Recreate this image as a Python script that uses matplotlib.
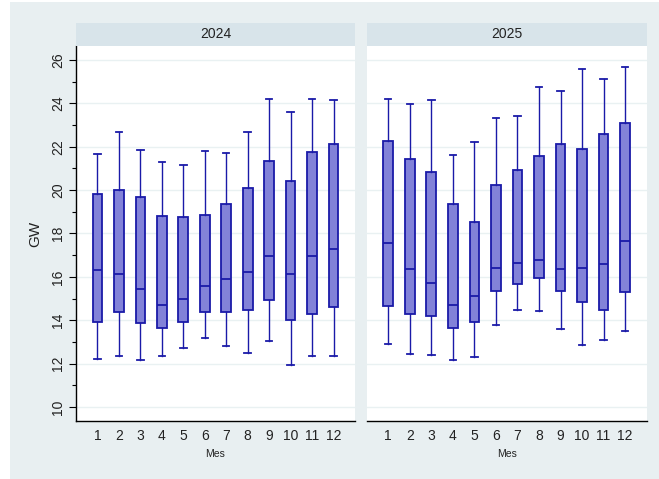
import matplotlib
matplotlib.use("Agg")
import matplotlib.pyplot as plt
from matplotlib.patches import Rectangle
from matplotlib.ticker import MultipleLocator

plt.rcParams['font.family'] = ['Liberation Sans', 'DejaVu Sans']

months = list(range(1, 13))
month_labels = [str(m) for m in months]
years = ["2024", "2025"]

whishi_2024 = [21.69, 22.69, 21.85, 21.29, 21.17, 21.79, 21.72, 22.69, 24.22, 23.61, 24.22, 24.14]
q3_2024 = [19.83, 20.00, 19.69, 18.82, 18.77, 18.86, 19.34, 20.11, 21.35, 20.43, 21.74, 22.12]
med_2024 = [16.31, 16.14, 15.43, 14.68, 14.96, 15.58, 15.92, 16.23, 16.95, 16.15, 16.97, 17.28]
q1_2024 = [13.91, 14.39, 13.85, 13.63, 13.94, 14.39, 14.40, 14.49, 14.92, 14.03, 14.29, 14.60]
whislo_2024 = [12.23, 12.36, 12.17, 12.34, 12.72, 13.19, 12.80, 12.48, 13.02, 11.94, 12.36, 12.36]

whishi_2025 = [24.22, 23.97, 24.15, 21.62, 22.22, 23.32, 23.43, 24.74, 24.58, 25.60, 25.14, 25.66]
q3_2025 = [22.26, 21.43, 20.86, 19.35, 18.52, 20.25, 20.92, 21.57, 22.12, 21.88, 22.60, 23.09]
med_2025 = [17.54, 16.34, 15.71, 14.68, 15.11, 16.43, 16.62, 16.79, 16.37, 16.42, 16.59, 17.66]
q1_2025 = [14.65, 14.28, 14.19, 13.62, 13.91, 15.37, 15.69, 15.94, 15.36, 14.86, 14.46, 15.29]
whislo_2025 = [12.91, 12.43, 12.40, 12.16, 12.30, 13.80, 14.45, 14.42, 13.59, 12.86, 13.08, 13.51]

data = {
    "2024": (whislo_2024, q1_2024, med_2024, q3_2024, whishi_2024),
    "2025": (whislo_2025, q1_2025, med_2025, q3_2025, whishi_2025),
}

W, H = 659, 479
fig = plt.figure(figsize=(W / 100, H / 100), dpi=100, facecolor='white')

BG = '#e8eff1'
STRIP = '#d8e4ea'
GRID = '#e9f1f2'
FILL = '#8282d8'
EDGE = '#1a1aa8'

fig.patches.append(Rectangle((10 / W, 0), 1 - 10 / W, 1 - 2 / H,
                             transform=fig.transFigure, facecolor=BG,
                             edgecolor='none', zorder=-10))

def fx(px):
    return px / W

def fy(py):
    return 1 - py / H

panels = [(76, 355), (366.7, 646.7)]
top_px, bot_px = 46, 421
strip_top = 23

for i, (yr, (x0, x1)) in enumerate(zip(years, panels)):
    ax = fig.add_axes([fx(x0), fy(bot_px), fx(x1 - x0), (bot_px - top_px) / H])
    ax.set_facecolor('white')
    lo, q1, med, q3, hi = data[yr]
    stats = [dict(whislo=lo[k], q1=q1[k], med=med[k], q3=q3[k], whishi=hi[k],
                  fliers=[], label=month_labels[k]) for k in range(12)]
    ax.bxp(stats, positions=months, widths=0.45, capwidths=0.3,
           patch_artist=True, showfliers=False,
           boxprops=dict(facecolor=FILL, edgecolor=EDGE, linewidth=1.3),
           medianprops=dict(color=EDGE, linewidth=1.3),
           whiskerprops=dict(color=EDGE, linewidth=1.0),
           capprops=dict(color=EDGE, linewidth=1.3))
    ax.set_xlim(0, 13)
    ax.set_ylim(9.35, 26.65)
    ax.yaxis.set_major_locator(MultipleLocator(2))
    ax.yaxis.set_minor_locator(MultipleLocator(1))
    ax.grid(axis='y', which='major', color=GRID, linewidth=1.0)
    ax.set_axisbelow(True)
    ax.set_xticks(months)
    ax.set_xticklabels(month_labels, fontsize=10, color='#222222')
    ax.tick_params(axis='x', length=0, pad=6)
    for s in ['top', 'right']:
        ax.spines[s].set_visible(False)
    ax.spines['bottom'].set_color('black')
    ax.spines['bottom'].set_linewidth(1.0)
    ax.set_xlabel('Mes', fontsize=7.5, labelpad=4, color='#222222')
    if i == 0:
        ax.spines['left'].set_color('black')
        ax.spines['left'].set_linewidth(1.0)
        ax.tick_params(axis='y', which='major', length=5, width=0.8, labelsize=10,
                       labelrotation=90, pad=3, labelcolor='#222222')
        ax.tick_params(axis='y', which='minor', length=3, width=0.8)
        for lab in ax.get_yticklabels():
            lab.set_va('center')
        ax.set_ylabel('GW', fontsize=11, labelpad=6, color='#222222')
    else:
        ax.spines['left'].set_visible(False)
        ax.tick_params(axis='y', which='both', left=False, labelleft=False)
    # strip
    sax = fig.add_axes([fx(x0), fy(top_px), fx(x1 - x0), (top_px - strip_top) / H])
    sax.set_facecolor(STRIP)
    sax.set_xticks([])
    sax.set_yticks([])
    for s in sax.spines.values():
        s.set_visible(False)
    sax.text(0.5, 0.5, yr, ha='center', va='center', fontsize=10,
             color='#222222', transform=sax.transAxes)

fig.savefig('out.png', dpi=100, facecolor='white')
